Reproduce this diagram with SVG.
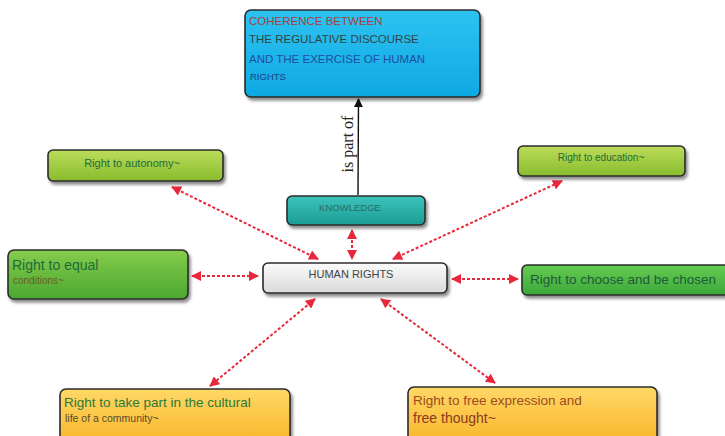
<svg xmlns="http://www.w3.org/2000/svg" width="725" height="436" viewBox="0 0 725 436">
<defs>
<style>
.box{stroke:#2b2b2b;stroke-width:1.6;filter:url(#sh)}
.t{font-family:"Liberation Sans",Arial,sans-serif}
.red{stroke:#e8283a;stroke-width:2;stroke-dasharray:3 2;fill:none;marker-start:url(#ah);marker-end:url(#ah)}
</style>
<filter id="sh" x="-10%" y="-20%" width="120%" height="150%">
<feGaussianBlur in="SourceAlpha" stdDeviation="1.5"/>
<feOffset dx="1.5" dy="2.5" result="b"/>
<feComponentTransfer><feFuncA type="linear" slope="0.45"/></feComponentTransfer>
<feMerge><feMergeNode/><feMergeNode in="SourceGraphic"/></feMerge>
</filter>
<marker id="ah" viewBox="0 0 10 10" refX="9" refY="5" markerWidth="11" markerHeight="10" markerUnits="userSpaceOnUse" orient="auto-start-reverse">
<path d="M0,0 L10,5 L0,10 z" fill="#e8283a"/>
</marker>
<marker id="bk" viewBox="0 0 10 10" refX="9" refY="5" markerWidth="9" markerHeight="9" markerUnits="userSpaceOnUse" orient="auto">
<path d="M0,0 L10,5 L0,10 z" fill="#111"/>
</marker>
<linearGradient id="gc" x1="0" y1="0" x2="0" y2="1"><stop offset="0" stop-color="#2ec3f2"/><stop offset="1" stop-color="#0ea8e2"/></linearGradient>
<linearGradient id="gk" x1="0" y1="0" x2="0" y2="1"><stop offset="0" stop-color="#3cc4bc"/><stop offset="1" stop-color="#1b9c94"/></linearGradient>
<linearGradient id="gl" x1="0" y1="0" x2="0" y2="1"><stop offset="0" stop-color="#bcdc5a"/><stop offset="1" stop-color="#88bc2c"/></linearGradient>
<linearGradient id="gg" x1="0" y1="0" x2="0" y2="1"><stop offset="0" stop-color="#86cc4c"/><stop offset="1" stop-color="#4aa830"/></linearGradient>
<linearGradient id="gb" x1="0" y1="0" x2="0" y2="1"><stop offset="0" stop-color="#66cc52"/><stop offset="1" stop-color="#3aa83a"/></linearGradient>
<linearGradient id="gh" x1="0" y1="0" x2="0" y2="1"><stop offset="0" stop-color="#fbfbfb"/><stop offset="1" stop-color="#dadada"/></linearGradient>
<linearGradient id="go" x1="0" y1="0" x2="0" y2="1"><stop offset="0" stop-color="#ffd866"/><stop offset="1" stop-color="#f8b224"/></linearGradient>
</defs>
<rect width="725" height="436" fill="#ffffff"/>

<g id="connectors">
<line x1="358" y1="195" x2="358.5" y2="99" stroke="#111" stroke-width="1.4" marker-end="url(#bk)"/>
<text x="0" y="0" transform="translate(353,144) rotate(-90)" text-anchor="middle" style="font-family:'Liberation Serif','Times New Roman',serif;font-size:16px" fill="#222">is part of</text>
<line class="red" x1="172" y1="187" x2="318" y2="259"/>
<line class="red" x1="352" y1="230" x2="352" y2="259"/>
<line class="red" x1="393" y1="259" x2="562" y2="181"/>
<line class="red" x1="192" y1="276" x2="258" y2="276"/>
<line class="red" x1="452" y1="279" x2="518" y2="279"/>
<line class="red" x1="315" y1="299" x2="210" y2="386"/>
<line class="red" x1="381" y1="299" x2="495" y2="383"/>
</g>

<g id="coherence">
<rect class="box" x="245" y="10" width="235" height="87" rx="6" fill="url(#gc)"/>
<text class="t" x="249" y="25" font-size="11.5" fill="#a8403a">COHERENCE BETWEEN</text>
<text class="t" x="249" y="43" font-size="11.5" fill="#33453f">THE REGULATIVE DISCOURSE</text>
<text class="t" x="249" y="63" font-size="11.5" fill="#1f4fa0">AND THE EXERCISE OF HUMAN</text>
<text class="t" x="250" y="80" font-size="9.5" fill="#1f3f80">RIGHTS</text>
</g>

<g id="knowledge">
<rect class="box" x="287" y="196" width="138" height="29" rx="5" fill="url(#gk)"/>
<text class="t" x="350" y="211" font-size="9.5" fill="#2f6a66" text-anchor="middle">KNOWLEDGE</text>
</g>

<g id="autonomy">
<rect class="box" x="48" y="150" width="175" height="31" rx="5" fill="url(#gl)"/>
<text class="t" x="132" y="167" font-size="11" fill="#1f6a3a" text-anchor="middle">Right to autonomy~</text>
</g>

<g id="education">
<rect class="box" x="518" y="146" width="167" height="30" rx="5" fill="url(#gl)"/>
<text class="t" x="601" y="161" font-size="10" fill="#1f6a3a" text-anchor="middle">Right to education~</text>
</g>

<g id="equal">
<rect class="box" x="8" y="250" width="180" height="49" rx="6" fill="url(#gg)"/>
<text class="t" x="12" y="270" font-size="14" fill="#1f6a3a">Right to equal</text>
<text class="t" x="13" y="284" font-size="10" fill="#6a5a2a">conditions~</text>
</g>

<g id="human-rights">
<rect class="box" x="263" y="263" width="184" height="30" rx="5" fill="url(#gh)"/>
<text class="t" x="351" y="278" font-size="11" fill="#444" text-anchor="middle">HUMAN RIGHTS</text>
</g>

<g id="choose">
<rect class="box" x="522" y="265" width="210" height="30" rx="5" fill="url(#gb)"/>
<text class="t" x="530" y="284" font-size="13.5" fill="#1f5a3a">Right to choose and be chosen</text>
</g>

<g id="cultural">
<rect class="box" x="60" y="389" width="230" height="60" rx="6" fill="url(#go)"/>
<text class="t" x="64" y="407" font-size="13.5" fill="#2a7a3a">Right to take part in the cultural</text>
<text class="t" x="65" y="422" font-size="10.5" fill="#5a4a30">life of a community~</text>
</g>

<g id="expression">
<rect class="box" x="408" y="387" width="249" height="62" rx="6" fill="url(#go)"/>
<text class="t" x="413" y="405" font-size="13.5" fill="#a04a20">Right to free expression and</text>
<text class="t" x="413" y="423" font-size="14" fill="#8a3a20">free thought~</text>
</g>
</svg>
